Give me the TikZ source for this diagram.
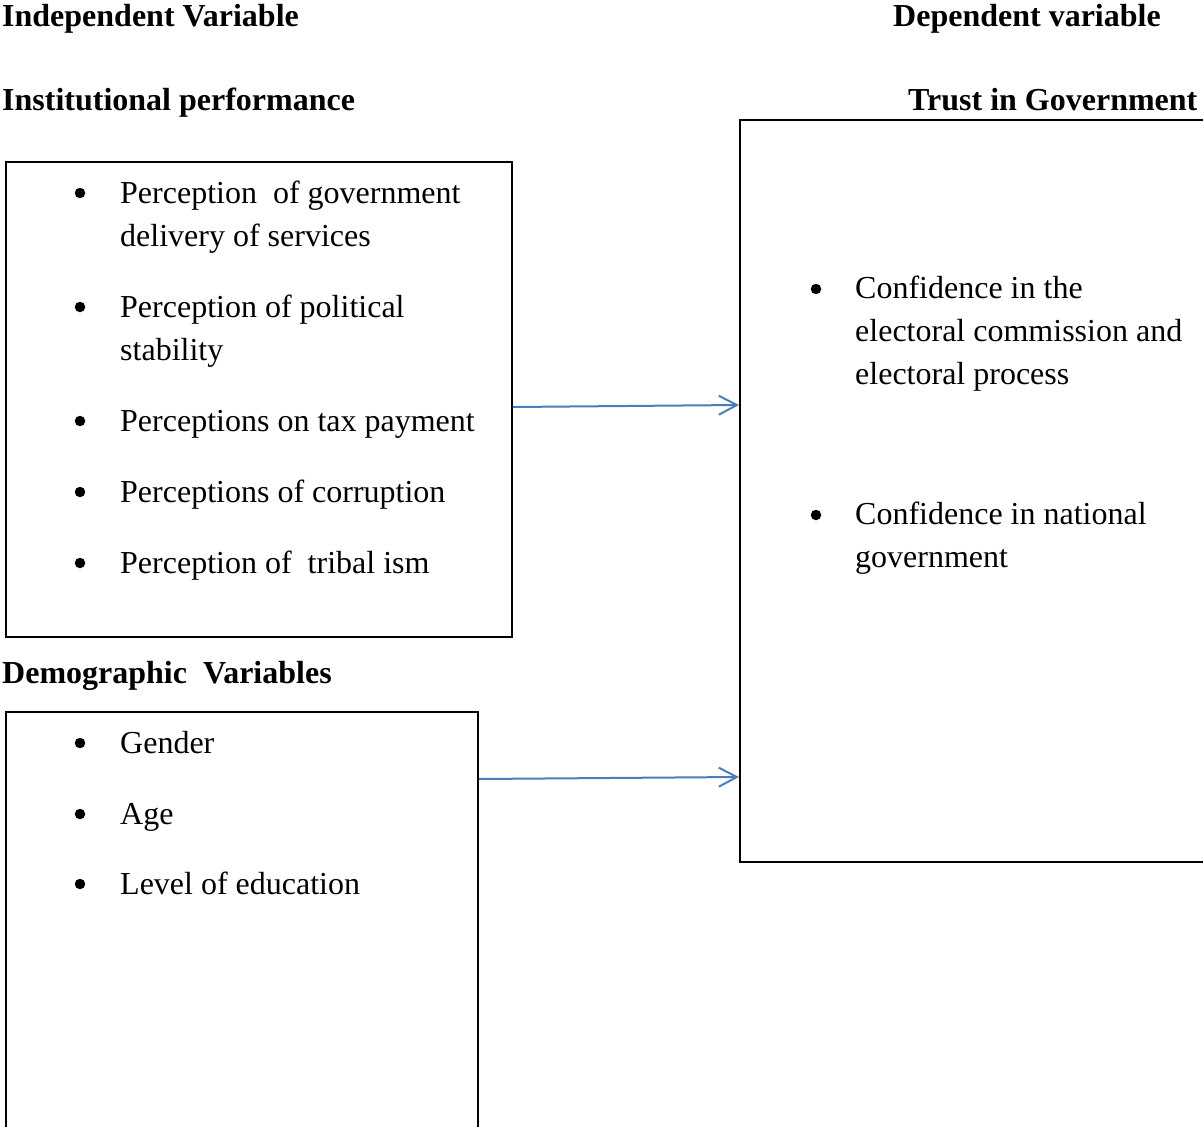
\documentclass[tikz,border=0pt]{standalone}
\usepackage{fontspec}
\setmainfont{Liberation Serif}
\usetikzlibrary{arrows.meta}
\definecolor{arrowblue}{HTML}{4A7EBB}
\tikzset{
  box/.style={draw=black, line width=1.8pt, inner sep=0pt, anchor=north west},
  txt/.style={inner sep=0pt, anchor=base west, align=left, font=\fontsize{32}{43}\selectfont},
  head/.style={inner sep=0pt, anchor=base west, font=\fontsize{32}{43}\selectfont\bfseries},
  bul/.style={circle, fill=black, inner sep=0pt, minimum size=10.5pt},
  arr/.style={draw=arrowblue, line width=2pt, -{Straight Barb[length=18pt,width=19pt,line width=2pt]}},
}
\begin{document}
\begin{tikzpicture}[x=1pt,y=-1pt]
\useasboundingbox (0,0) rectangle (1203,1127);
\clip (0,0) rectangle (1203,1127);
% headers
\node[head] (h1) at (2,27) {Independent Variable};
\node[head] (h2) at (893,27) {Dependent variable};
\node[head] (h3) at (2,110) {Institutional performance};
\node[head] (h4) at (908,110) {Trust in Government};
\node[head] (h5) at (2,683) {Demographic\ \ Variables};
% boxes
\node[box, minimum width=506pt, minimum height=475pt] (b1) at (5,161) {};
\node[box, minimum width=472pt, minimum height=420pt] (b2) at (5,711) {};
\node[box, minimum width=480pt, minimum height=742pt] (b3) at (739,119) {};
% box 1 items
\node[bul] (u1) at (80,193) {};
\node[txt] (t1) at (120,246) {Perception\ \ of government\\delivery of services};
\node[bul] (u2) at (80,307) {};
\node[txt] (t2) at (120,360) {Perception of political\\stability};
\node[bul] (u3) at (80,421) {};
\node[txt] (t3) at (120,431) {Perceptions on tax payment};
\node[bul] (u4) at (80,492) {};
\node[txt] (t4) at (120,502) {Perceptions of corruption};
\node[bul] (u5) at (80,563) {};
\node[txt] (t5) at (120,573) {Perception of\ \ tribal ism};
% box 2 items
\node[bul] (v1) at (80,743) {};
\node[txt] (s1) at (120,753) {Gender};
\node[bul] (v2) at (80,814) {};
\node[txt] (s2) at (120,824) {Age};
\node[bul] (v3) at (80,884) {};
\node[txt] (s3) at (120,894) {Level of education};
% box 3 items
\node[bul] (w1) at (816,289) {};
\node[txt] (r1) at (855,384) {Confidence in the\\electoral commission and\\electoral process};
\node[bul] (w2) at (816,515) {};
\node[txt] (r2) at (855,567) {Confidence in national\\government};
% arrows
\draw[arr] (b1.east |- 0,407) -- (b3.west |- 0,405);
\draw[arr] (b2.east |- 0,779) -- (b3.west |- 0,777);
\end{tikzpicture}
\end{document}
